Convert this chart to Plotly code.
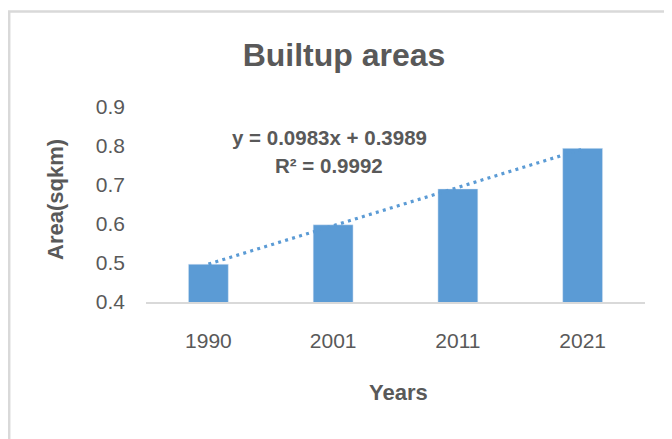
import plotly.graph_objects as go

years = ["1990", "2001", "2011", "2021"]
area_sqkm = [0.497, 0.598, 0.690, 0.794]
y_ticks = [0.4, 0.5, 0.6, 0.7, 0.8, 0.9]

# Excel linear trendline as printed on the chart (x = category index 1..4)
trend_slope = 0.0983
trend_intercept = 0.3989
trend_r2 = 0.9992

BLUE = "#5B9BD5"
GREY = "#595959"
FONT = "Liberation Sans, Arial, sans-serif"

trend = [trend_slope * (i + 1) + trend_intercept for i in range(len(years))]

fig = go.Figure()

fig.add_trace(go.Bar(
    x=years,
    y=area_sqkm,
    marker_color=BLUE,
    width=0.32,
    showlegend=False,
))

fig.add_trace(go.Scatter(
    x=years,
    y=trend,
    mode="lines",
    line=dict(color=BLUE, width=3.2, dash="3px,4.3px"),
    showlegend=False,
))

# page body has an 8px margin, so the figure is 8px smaller than the window
OFF = 8
W, H = 672 - OFF, 439 - OFF
L, T = 146 - OFF, 107 - OFF
pw, ph = 499, 195
R, B = W - L - pw, H - T - ph


def px(x):
    # page pixel x -> paper coordinate
    return (x - OFF - L) / pw


def py(y):
    # page pixel y -> paper coordinate
    return (H - B - (y - OFF)) / ph


fig.update_layout(
    width=W,
    height=H,
    margin=dict(l=L, r=R, t=T, b=B),
    paper_bgcolor="white",
    plot_bgcolor="white",
    font=dict(family=FONT, color=GREY),
    title=dict(
        text="<b>Builtup areas</b>",
        x=(344 - OFF) / W, xanchor="center",
        y=1 - (55 - OFF) / H, yanchor="middle",
        font=dict(size=32, color=GREY, family=FONT),
    ),
    xaxis=dict(
        showline=True, linecolor="#d9d9d9", linewidth=1.5,
        showgrid=False, ticks="", ticklabelstandoff=19,
        tickfont=dict(size=21, color=GREY),
    ),
    yaxis=dict(
        range=[0.4, 0.9], tickvals=y_ticks, tickformat=".1f",
        showgrid=False, zeroline=False, showline=False, ticks="",
        ticklabelstandoff=20,
        tickfont=dict(size=21, color=GREY),
    ),
)

labels = [
    (f"<b>y = {trend_slope:.4f}x + {trend_intercept:.4f}</b>", 329, 137, 20.5, 0),
    (f"<b>R² = {trend_r2:.4f}</b>", 329, 165, 20.5, 0),
    ("<b>Area(sqkm)</b>", 55, 200, 22, -90),
    ("<b>Years</b>", 398, 392, 22, 0),
]
for text, x, y, size, angle in labels:
    fig.add_annotation(
        text=text, textangle=angle,
        xref="paper", yref="paper", x=px(x), y=py(y),
        xanchor="center", yanchor="middle",
        showarrow=False, font=dict(size=size, color=GREY),
    )

# chart area border (cut off at the right and bottom like the source image)
fig.add_shape(
    type="rect", xref="paper", yref="paper",
    x0=px(OFF + 1.2), x1=px(720), y0=py(480), y1=py(11.5),
    line=dict(color="#d9d9d9", width=2.5), layer="below",
)

fig.write_html("out.html")
